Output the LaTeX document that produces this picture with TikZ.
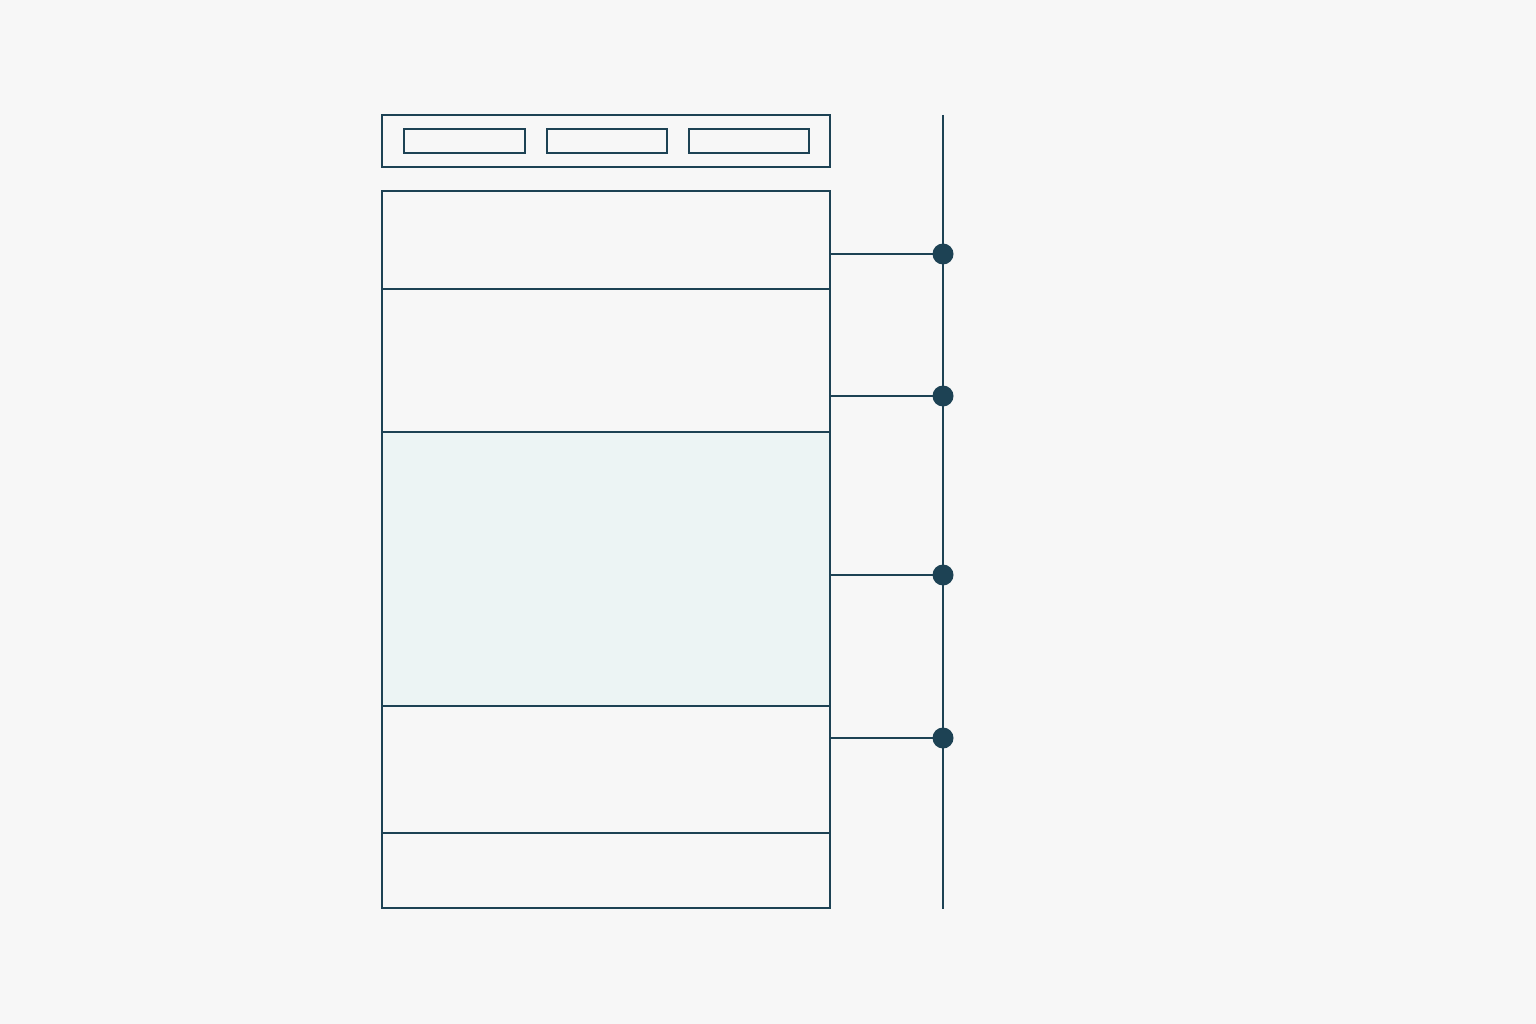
\documentclass[tikz,border=0pt]{standalone}
\definecolor{ink}{HTML}{1D4254}
\definecolor{bg}{HTML}{F7F7F7}
\definecolor{panel}{HTML}{ECF4F4}
\begin{document}
\begin{tikzpicture}[x=1pt,y=-1pt,
  line/.style={draw=ink,line width=2.4pt},
  dot/.style={circle,fill=ink,inner sep=0pt,minimum size=21pt}]
\fill[bg] (0,0) rectangle (1536,1024);
\useasboundingbox (0,0) rectangle (1536,1024);
% header
\draw[line] (382,115) rectangle (830,167);
\draw[line] (404,129) rectangle (525,153);
\draw[line] (547,129) rectangle (667,153);
\draw[line] (689,129) rectangle (809,153);
% main column
\fill[panel] (382,432) rectangle (830,706);
\draw[line] (382,191) rectangle (830,908);
\draw[line] (382,289) -- (830,289);
\draw[line] (382,432) -- (830,432);
\draw[line] (382,706) -- (830,706);
\draw[line] (382,833) -- (830,833);
% spine
\coordinate (top) at (943,115);
\coordinate (bot) at (943,909);
\draw[line] (top) -- (bot);
\foreach \i/\y in {a/254,b/396,c/575,d/738}{
  \coordinate (s\i) at (830,\y);
  \node[dot] (d\i) at (943,\y) {};
  \draw[line] (s\i) -- (d\i.center);
}
\end{tikzpicture}
\end{document}
